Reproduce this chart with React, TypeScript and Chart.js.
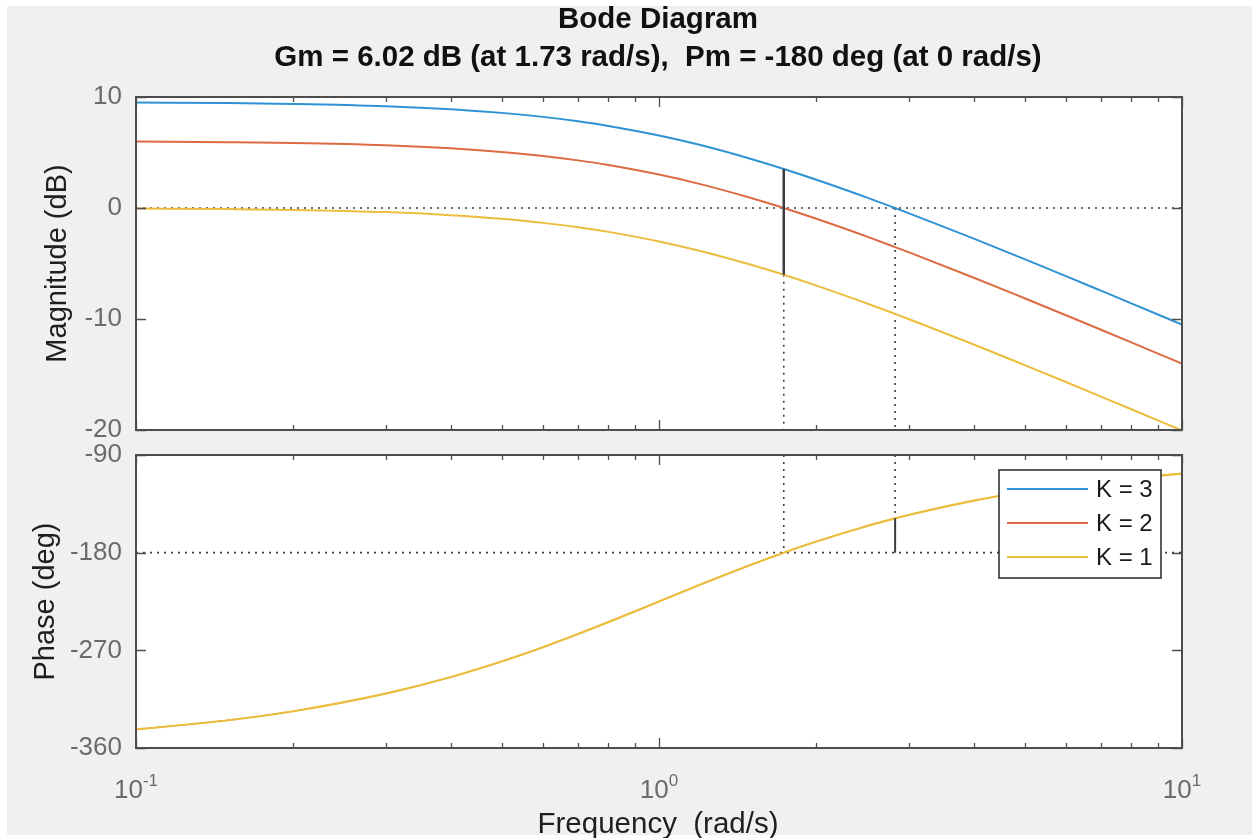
import React, { useEffect, useRef } from 'react';
import { Chart, registerables } from 'chart.js';

Chart.register(...registerables);

// ---------------- data ----------------
const freq = [0.1, 0.15, 0.2, 0.3, 0.4, 0.5, 0.6, 0.7, 0.8, 1, 1.2, 1.5, 1.732, 2, 2.5, 2.828, 3, 4, 5, 6, 7, 8, 10];
const magK3 = [9.5, 9.45, 9.37, 9.17, 8.9, 8.57, 8.21, 7.81, 7.39, 6.53, 5.67, 4.42, 3.52, 2.55, 0.94, 0.0, -0.46, -2.76, -4.61, -6.14, -7.45, -8.59, -10.5];
const magK2 = [5.98, 5.92, 5.85, 5.65, 5.38, 5.05, 4.69, 4.29, 3.87, 3.01, 2.15, 0.9, 0.0, -0.97, -2.58, -3.52, -3.98, -6.28, -8.13, -9.66, -10.97, -12.11, -14.02];
const magK1 = [-0.04, -0.1, -0.17, -0.37, -0.65, -0.97, -1.34, -1.73, -2.15, -3.01, -3.87, -5.12, -6.02, -6.99, -8.6, -9.54, -10.0, -12.3, -14.15, -15.68, -16.99, -18.13, -20.04];
const phaseAll = [-342.9, -334.4, -326.1, -309.9, -294.6, -280.3, -267.1, -255.0, -244.0, -225.0, -209.4, -191.1, -180.0, -169.7, -155.4, -148.4, -145.3, -132.1, -123.9, -118.4, -114.4, -111.4, -107.1];

const seriesLabels = ['K = 3', 'K = 2', 'K = 1'];
const seriesColors = ['#2f92d4', '#dc6a42', '#ecbd3c'];

const magRange = [-20, 10];
const magStep = 10;
const phaseRange = [-360, -90];
const phaseStep = 90;
const freqRange = [0.1, 10];
const xTickValues = [0.1, 1, 10];
const xTickExponents = ['-1', '0', '1'];
const xMinorTicks = [0.2, 0.3, 0.4, 0.5, 0.6, 0.7, 0.8, 0.9, 2, 3, 4, 5, 6, 7, 8, 9];

// margins
const gmFreq = 1.732;
const gmTopMag = 3.52;
const gmBottomMag = -6.02;
const pmFreq = 2.828;
const pmPhase = -148.4;
const refMag = 0;
const refPhase = -180;

const titleLine1 = 'Bode Diagram';
const titleLine2 = 'Gm = 6.02 dB (at 1.73 rad/s),  Pm = -180 deg (at 0 rad/s)';
const xLabel = 'Frequency  (rad/s)';
const magLabel = 'Magnitude (dB)';
const phaseLabel = 'Phase (deg)';

// ---------------- styling ----------------
const W = 1252;
const H = 838;
const FONT = "'Liberation Sans', Arial, Helvetica, sans-serif";
const AXIS_COLOR = '#4d4d4d';
const TICK_TEXT = '#6b6b6b';
const LABEL_TEXT = '#1f1f1f';
const MARGIN_COLOR = '#3c3c3c';

const pts = (ys: number[]) => freq.map((x, i) => ({ x, y: ys[i] }));

const boxPlugin = {
  id: 'matlabBox',
  beforeDatasetsDraw(chart: any) {
    const { ctx, chartArea: a } = chart;
    ctx.save();
    ctx.fillStyle = '#ffffff';
    ctx.fillRect(a.left, a.top, a.right - a.left, a.bottom - a.top);
    ctx.restore();
  },
  afterDatasetsDraw(chart: any) {
    const { ctx, chartArea: a, scales } = chart;
    const xs = scales.x;
    const ys = scales.y;
    ctx.save();
    ctx.strokeStyle = AXIS_COLOR;
    ctx.lineWidth = 1.3;
    ctx.beginPath();
    const major = 10;
    const minor = 5;
    for (const v of xTickValues) {
      const p = Math.round(xs.getPixelForValue(v)) + 0.5;
      ctx.moveTo(p, a.bottom); ctx.lineTo(p, a.bottom - major);
      ctx.moveTo(p, a.top); ctx.lineTo(p, a.top + major);
    }
    for (const v of xMinorTicks) {
      const p = Math.round(xs.getPixelForValue(v)) + 0.5;
      ctx.moveTo(p, a.bottom); ctx.lineTo(p, a.bottom - minor);
      ctx.moveTo(p, a.top); ctx.lineTo(p, a.top + minor);
    }
    for (const t of ys.ticks) {
      const p = Math.round(ys.getPixelForValue(t.value)) + 0.5;
      ctx.moveTo(a.left, p); ctx.lineTo(a.left + major, p);
      ctx.moveTo(a.right, p); ctx.lineTo(a.right - major, p);
    }
    ctx.stroke();
    ctx.lineWidth = 2;
    ctx.strokeRect(a.left, a.top, a.right - a.left, a.bottom - a.top);
    ctx.restore();
  },
};

const titlePlugin = {
  id: 'bodeTitle',
  afterDraw(chart: any) {
    const { ctx, chartArea: a } = chart;
    const cx = (a.left + a.right) / 2 - 1;
    ctx.save();
    ctx.fillStyle = '#111111';
    ctx.textAlign = 'center';
    ctx.textBaseline = 'alphabetic';
    ctx.font = `bold 29.5px ${FONT}`;
    ctx.fillText(titleLine1, cx, 28);
    ctx.fillText(titleLine2, cx, 66);
    ctx.restore();
  },
};

const xAxisTextPlugin = {
  id: 'xAxisText',
  afterDraw(chart: any) {
    const { ctx, chartArea: a, scales } = chart;
    const xs = scales.x;
    ctx.save();
    ctx.fillStyle = TICK_TEXT;
    ctx.textBaseline = 'alphabetic';
    ctx.textAlign = 'left';
    xTickValues.forEach((v, i) => {
      const p = xs.getPixelForValue(v);
      ctx.font = `26px ${FONT}`;
      const wb = ctx.measureText('10').width;
      ctx.font = `17px ${FONT}`;
      const we = ctx.measureText(xTickExponents[i]).width;
      const start = p - (wb + we) / 2;
      ctx.font = `26px ${FONT}`;
      ctx.fillText('10', start, a.bottom + 50);
      ctx.font = `17px ${FONT}`;
      ctx.fillText(xTickExponents[i], start + wb, a.bottom + 38);
    });
    ctx.fillStyle = LABEL_TEXT;
    ctx.textAlign = 'center';
    ctx.font = `29.5px ${FONT}`;
    ctx.fillText(xLabel, (a.left + a.right) / 2 - 1, a.bottom + 85);
    ctx.restore();
  },
};

const legendPlugin = {
  id: 'boxLegend',
  afterDraw(chart: any) {
    const { ctx } = chart;
    const bx = 999, by = 470, bw = 162, bh = 108;
    ctx.save();
    ctx.fillStyle = '#ffffff';
    ctx.fillRect(bx, by, bw, bh);
    ctx.strokeStyle = '#262626';
    ctx.lineWidth = 1.5;
    ctx.strokeRect(bx, by, bw, bh);
    ctx.font = `24px ${FONT}`;
    ctx.textBaseline = 'middle';
    ctx.textAlign = 'left';
    seriesLabels.forEach((lab, i) => {
      const y = by + 19 + i * 34;
      ctx.strokeStyle = seriesColors[i];
      ctx.lineWidth = 2;
      ctx.beginPath();
      ctx.moveTo(bx + 8, y);
      ctx.lineTo(bx + 89, y);
      ctx.stroke();
      ctx.fillStyle = '#1a1a1a';
      ctx.fillText(lab, bx + 97, y + 1);
    });
    ctx.restore();
  },
};

const curve = (label: string, data: any[], color: string, order: number, width = 2) => ({
  label,
  data,
  borderColor: color,
  backgroundColor: color,
  borderWidth: width,
  pointRadius: 0,
  fill: false,
  cubicInterpolationMode: 'monotone' as const,
  order,
});

const segment = (data: any[], dashed: boolean, width: number, order: number) => ({
  label: '',
  data,
  borderColor: MARGIN_COLOR,
  borderWidth: width,
  borderDash: dashed ? [2, 5] : [],
  borderCapStyle: 'butt' as const,
  pointRadius: 0,
  fill: false,
  order,
});

const xScale = {
  type: 'logarithmic' as const,
  min: freqRange[0],
  max: freqRange[1],
  display: false,
};

const yScale = (range: number[], step: number, title: string, titlePad: number) => ({
  type: 'linear' as const,
  min: range[0],
  max: range[1],
  ticks: { stepSize: step, color: TICK_TEXT, font: { size: 26, family: FONT }, padding: 14 },
  grid: { display: false, drawTicks: false },
  border: { display: false },
  title: {
    display: true,
    text: title,
    color: LABEL_TEXT,
    font: { size: 29, family: FONT },
    padding: { top: titlePad, bottom: 0 },
  },
  afterFit: (s: any) => {
    s.width = 136;
    s.paddingTop = 0;
    s.paddingBottom = 0;
  },
});

export default function App() {
  const topRef = useRef<HTMLCanvasElement>(null);
  const botRef = useRef<HTMLCanvasElement>(null);

  useEffect(() => {
    const common = {
      responsive: false,
      animation: false as const,
      devicePixelRatio: 1,
      events: [] as any[],
      plugins: { legend: { display: false }, tooltip: { enabled: false }, title: { display: false } },
    };

    const top = new Chart(topRef.current as HTMLCanvasElement, {
      type: 'line',
      data: {
        datasets: [
          segment([{ x: gmFreq, y: gmTopMag }, { x: gmFreq, y: gmBottomMag }], false, 2.5, 0),
          curve(seriesLabels[2], pts(magK1), seriesColors[2], 1),
          curve(seriesLabels[1], pts(magK2), seriesColors[1], 2),
          curve(seriesLabels[0], pts(magK3), seriesColors[0], 3),
          segment([{ x: freqRange[0], y: refMag }, { x: freqRange[1], y: refMag }], true, 1.6, 5),
          segment([{ x: gmFreq, y: gmBottomMag }, { x: gmFreq, y: magRange[0] }], true, 1.6, 5),
          segment([{ x: pmFreq, y: refMag }, { x: pmFreq, y: magRange[0] }], true, 1.6, 5),
        ],
      },
      options: {
        ...common,
        layout: { padding: { top: 97, left: 0, right: 70, bottom: H - 430 } },
        scales: { x: xScale, y: yScale(magRange, magStep, magLabel, 41) },
      } as any,
      plugins: [boxPlugin, titlePlugin],
    });

    const bot = new Chart(botRef.current as HTMLCanvasElement, {
      type: 'line',
      data: {
        datasets: [
          segment([{ x: pmFreq, y: pmPhase }, { x: pmFreq, y: refPhase }], false, 2, 0),
          curve(seriesLabels[2], pts(phaseAll), seriesColors[2], 1, 2.2),
          curve(seriesLabels[1], pts(phaseAll), seriesColors[1], 2, 1),
          curve(seriesLabels[0], pts(phaseAll), seriesColors[0], 3, 1),
          segment([{ x: freqRange[0], y: refPhase }, { x: freqRange[1], y: refPhase }], true, 1.6, 5),
          segment([{ x: gmFreq, y: phaseRange[1] }, { x: gmFreq, y: refPhase }], true, 1.6, 5),
          segment([{ x: pmFreq, y: phaseRange[1] }, { x: pmFreq, y: pmPhase }], true, 1.6, 5),
        ],
      },
      options: {
        ...common,
        layout: { padding: { top: 455, left: 0, right: 70, bottom: H - 748 } },
        scales: { x: xScale, y: yScale(phaseRange, phaseStep, phaseLabel, 29) },
      } as any,
      plugins: [boxPlugin, xAxisTextPlugin, legendPlugin],
    });

    return () => {
      top.destroy();
      bot.destroy();
    };
  }, []);

  const canvasStyle: React.CSSProperties = { position: 'absolute', left: 0, top: 0, width: W, height: H };

  return (
    <div style={{ position: 'fixed', left: 0, top: 0, width: W, height: H, background: '#ffffff', overflow: 'hidden' }}>
      <div style={{ position: 'absolute', left: 7, top: 6, width: W - 7, height: H - 9, background: '#f0f0f0' }} />
      <canvas ref={topRef} width={W} height={H} style={canvasStyle} />
      <canvas ref={botRef} width={W} height={H} style={canvasStyle} />
    </div>
  );
}
